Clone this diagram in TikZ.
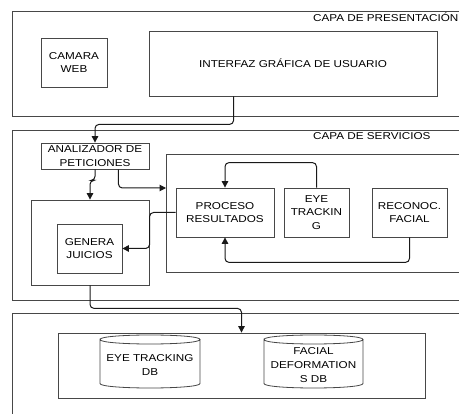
\documentclass[tikz,border=0pt]{standalone}
\usepackage{fontspec}
\setmainfont{Liberation Sans}[FakeStretch=1.17]
\usetikzlibrary{arrows.meta,calc}
\newcommand\dbcyl[4]{%
  \draw[boxline] (#1,#2+4.5) .. controls (#1,#2-1.5) and (#3,#2-1.5) .. (#3,#2+4.5)
    .. controls (#3,#2+10.5) and (#1,#2+10.5) .. (#1,#2+4.5) -- (#1,#4-4.5)
    .. controls (#1,#4+1.5) and (#3,#4+1.5) .. (#3,#4-4.5) -- (#3,#2+4.5);}
\begin{document}
\begin{tikzpicture}[x=1pt,y=-1pt,
  font=\fontsize{10}{13.7}\selectfont,
  boxline/.style={draw=black!72,line width=0.8pt},
  box/.style={boxline,inner sep=0pt,align=center},
  txt/.style={inner sep=0pt,align=center},
  conn/.style={draw=black!90,line width=1pt,rounded corners=4pt,-{Triangle[length=6.5pt,width=6.5pt]}}]
\useasboundingbox (0,0) rectangle (459,414);
\clip (0,0) rectangle (459,414);
% layers (open on the right, cut by the page edge)
\draw[boxline] (480,11) -- (12,11) -- (12,116) -- (480,116);
\node[txt,anchor=base west] (lblP) at (313,21.3) {CAPA DE PRESENTACIÓN};
\draw[boxline] (480,130) -- (12,130) -- (12,300) -- (480,300);
\node[txt,anchor=base west] (lblS) at (313,139.8) {CAPA DE SERVICIOS};
\draw[boxline] (480,313) -- (12,313) -- (12,430);
% presentation
\node[box,minimum width=66pt,minimum height=49pt] (cam) at (74,62.5) {CAMARA\\WEB};
\node[box,minimum width=288pt,minimum height=65pt] (gui) at (293,63.5) {INTERFAZ GRÁFICA DE USUARIO};
% services
\node[box,minimum width=108pt,minimum height=26pt] (anal) at (95,156) {ANALIZADOR DE\\PETICIONES};
\draw[boxline] (480,154) -- (166,154) -- (166,272) -- (480,272);
\coordinate (svcin) at (166,188);
\node[box,minimum width=98pt,minimum height=49pt] (proc) at (225,212.5) {PROCESO\\RESULTADOS};
\node[box,minimum width=65pt,minimum height=49pt] (eye) at (316.5,212.5) {EYE\\TRACKIN\\G};
\node[box,minimum width=75pt,minimum height=49pt] (rec) at (409.5,212.5) {RECONOC.\\FACIAL};
\node[box,minimum width=118pt,minimum height=85pt] (gcont) at (90,242.5) {};
\node[box,minimum width=65pt,minimum height=49pt] (gen) at (89.5,248.5) {GENERA\\JUICIOS};
% data
\node[box,minimum width=367pt,minimum height=65pt] (db) at (241.5,365.5) {};
\dbcyl{100}{335}{200}{388}
\dbcyl{264}{335}{363}{388}
\node[txt] (cylA) at (150,365) {EYE TRACKING\\DB};
\node[txt] (cylB) at (313.5,365) {FACIAL\\DEFORMATION\\S DB};
% connectors
\draw[conn] ($(gui.south west)+(85,0)$) -- ++(0,28) -| (anal.north);
\draw[conn] (anal.south) -- ++(0,11) -| (gcont.north);
\draw[conn] ($(anal.south east)+(-31,0)$) |- (svcin);
\draw[conn] (eye.north) -- ++(0,-25) -| (proc.north);
\draw[conn] (rec.south) -- ++(0,25) -| (proc.south);
\draw[conn] (proc.west) -- ++(-26,0) |- (gen.east);
\draw[conn] (gcont.south) -- ++(0,23) -| (db.north);
\end{tikzpicture}
\end{document}
